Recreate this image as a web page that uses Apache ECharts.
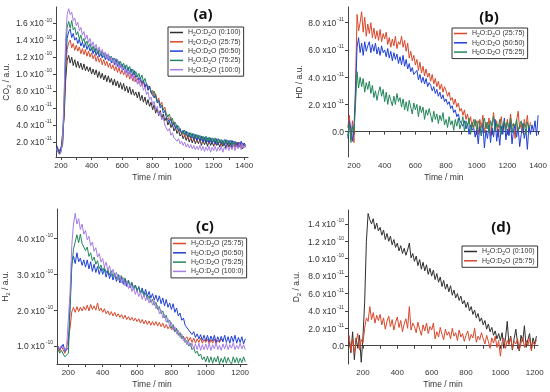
<!DOCTYPE html>
<html><head><meta charset="utf-8">
<script src="https://cdn.jsdelivr.net/npm/echarts@6/dist/echarts.min.js"></script>
<style>html,body{margin:0;padding:0;background:#fff}#c{width:550px;height:392px}</style>
</head><body><div id="c"></div>
<script>
// ---------- time axes (min) ----------
const timeAB = [160,170,180,190,
200,210,220,230,240,250,260,270,280,290,
300,310,320,330,340,350,360,370,380,390,
400,410,420,430,440,450,460,470,480,490,
500,510,520,530,540,550,560,570,580,590,
600,610,620,630,640,650,660,670,680,690,
700,710,720,730,740,750,760,770,780,790,
800,810,820,830,840,850,860,870,880,890,
900,910,920,930,940,950,960,970,980,990,
1000,1010,1020,1030,1040,1050,1060,1070,1080,1090,
1100,1110,1120,1130,1140,1150,1160,1170,1180,1190,
1200,1210,1220,1230,1240,1250,1260,1270,1280,1290,
1300,1310,1320,1330,1340,1350,1360,1370,1380,1390,
1400,1410];
const timeCD = [110,120,130,140,150,160,170,180,190,
200,210,220,230,240,250,260,270,280,290,
300,310,320,330,340,350,360,370,380,390,
400,410,420,430,440,450,460,470,480,490,
500,510,520,530,540,550,560,570,580,590,
600,610,620,630,640,650,660,670,680,690,
700,710,720,730,740,750,760,770,780,790,
800,810,820,830,840,850,860,870,880,890,
900,910,920,930,940,950,960,970,980,990,
1000,1010,1020,1030,1040,1050,1060,1070,1080,1090,
1100,1110,1120,1130,1140,1150,1160,1170,1180,1190,
1200,1210,1220,1230];

// ---------- (a) CO2, units of 1e-11 ----------
const co2_0_100 = [null,1.7,1.1,0.7,
1.2,1.4,4.8,9.2,11.6,12.2,11.3,12.0,11.0,11.7,
10.8,11.5,10.7,11.3,10.5,11.2,10.4,10.9,10.3,10.8,
10.0,10.6,9.9,10.5,9.6,10.3,9.5,10.1,9.3,9.9,
9.1,9.8,9.0,9.5,8.7,9.4,8.6,9.2,8.4,9.0,
8.2,8.9,8.0,8.6,7.8,8.5,7.6,8.2,7.5,7.9,
7.2,7.9,6.9,7.5,6.7,7.3,6.4,7.0,6.2,6.7,
5.8,6.4,5.4,6.0,5.1,5.7,4.8,5.3,4.5,4.9,
4.0,4.5,3.7,4.1,3.3,3.7,3.0,3.4,2.7,3.0,
2.4,2.8,2.2,2.7,2.0,2.5,1.9,2.5,1.8,2.3,
1.8,2.3,1.6,2.2,1.7,2.1,1.5,2.2,1.6,2.0,
1.5,2.1,1.6,1.9,1.4,2.0,1.5,1.9,1.3,1.9,
1.4,1.9,1.3,1.8,1.4,2.0,1.3,1.8,1.5,1.2,
1.7,1.4];
const co2_25_75 = [null,1.4,1.0,0.8,
1.1,1.6,5.5,10.5,12.9,13.7,14.0,13.1,13.6,12.8,
13.4,12.7,13.2,12.4,13.0,12.3,12.9,12.1,12.7,12.0,
12.5,11.8,12.3,11.5,12.1,11.4,11.9,11.1,11.7,11.0,
11.5,10.8,11.3,10.6,11.1,10.4,10.9,10.2,10.8,10.0,
10.5,9.9,10.4,9.6,10.2,9.4,10.0,9.2,9.8,9.1,
9.5,8.9,9.3,8.6,9.1,8.4,8.9,8.1,8.6,7.8,
8.1,7.3,7.7,6.8,7.2,6.3,6.7,5.8,6.1,5.3,
5.3,4.6,4.9,4.1,4.4,3.6,3.9,3.2,3.5,2.9,
3.2,2.6,3.1,2.4,2.9,2.3,2.8,2.2,2.7,2.1,
2.6,2.0,2.6,1.9,2.5,2.0,2.4,1.8,2.4,1.9,
2.2,1.7,2.3,1.8,2.2,1.6,2.1,1.7,2.2,1.6,
2.1,1.5,2.1,1.7,1.4,2.0,1.5,2.0,1.4,1.9,
1.6,null];
const co2_50_50 = [null,1.5,1.2,0.9,
1.0,1.8,6.0,11.5,14.2,15.0,15.3,14.3,14.8,14.0,
14.3,13.6,14.1,13.3,13.8,13.1,13.7,12.9,13.4,12.7,
13.1,12.4,13.0,12.2,12.8,12.0,12.6,11.9,12.5,11.7,
12.3,11.6,12.1,11.3,11.9,11.1,11.8,10.9,11.5,10.8,
11.2,10.5,11.0,10.2,10.8,10.0,10.6,9.8,10.4,9.6,
9.9,9.3,9.6,8.9,9.3,8.5,8.9,8.1,8.6,7.8,
8.0,7.2,7.5,6.6,6.9,6.0,6.3,5.4,5.7,4.9,
5.1,4.4,4.7,3.9,4.3,3.6,4.0,3.3,3.6,3.0,
3.4,2.9,3.3,2.6,3.1,2.5,3.0,2.3,2.9,2.2,
2.8,2.1,2.7,2.0,2.6,2.0,2.5,1.9,2.5,1.8,
2.4,1.8,2.4,1.7,2.3,1.8,2.2,1.6,2.3,1.7,
2.2,1.5,2.2,1.6,2.1,1.5,2.0,1.4,2.1,1.5,
1.9,1.6];
const co2_75_25 = [null,1.3,0.9,0.6,
0.9,2.0,6.8,12.8,15.5,16.2,15.4,16.3,15.2,15.5,
14.6,15.0,14.1,14.6,13.8,14.2,13.5,13.9,13.2,13.6,
12.8,13.3,12.6,13.1,12.4,12.9,12.2,12.7,12.0,12.5,
11.8,12.3,11.6,12.1,11.4,11.9,11.2,11.7,11.0,11.5,
10.8,11.3,10.6,11.1,10.4,10.9,10.2,10.6,9.9,10.3,
9.7,10.1,9.4,9.9,9.1,9.5,8.8,9.0,8.4,8.5,
7.7,8.0,7.2,7.4,6.7,6.9,6.2,6.3,5.6,5.7,
5.0,5.3,4.5,4.8,4.0,4.3,3.6,3.9,3.3,3.5,
3.0,3.4,2.8,3.2,2.6,3.1,2.5,3.0,2.4,2.9,
2.4,2.8,2.2,2.7,2.1,2.7,2.0,2.6,2.0,2.5,
2.0,2.5,1.8,2.4,1.9,2.3,1.7,2.3,1.8,2.2,
1.7,2.2,1.6,2.1,1.7,2.0,null,null,null,null,
null,null];
const co2_100_0 = [null,1.2,0.8,0.5,
0.8,2.2,7.5,14.0,17.0,17.7,17.0,17.3,16.3,16.6,
15.7,16.1,15.1,15.5,14.6,15.0,14.1,14.6,13.7,14.2,
13.3,13.8,13.0,13.5,12.7,13.2,12.4,12.9,12.1,12.6,
11.8,12.4,11.6,12.0,11.3,11.8,11.0,11.5,10.7,11.2,
10.4,10.9,10.1,10.6,9.8,10.3,9.5,9.9,9.1,9.6,
8.8,9.3,8.5,8.9,8.1,8.5,7.6,7.9,7.0,7.3,
6.4,6.8,5.8,6.2,5.2,5.5,4.6,4.9,4.0,4.2,
3.3,3.6,2.8,3.1,2.5,2.7,2.1,2.4,1.8,2.1,
1.6,2.0,1.4,1.8,1.3,1.7,1.2,1.6,1.1,1.5,
1.1,1.6,1.0,1.5,0.9,1.4,1.0,1.5,0.8,1.4,
1.0,1.5,0.9,1.4,1.0,1.5,0.8,1.4,1.1,1.6,
1.0,1.6,1.1,1.7,1.0,1.6,1.2,1.8,1.1,1.7,
1.3,1.6];

// ---------- (b) HD, units of 1e-11 ----------
const hd_25_75 = [0.3,1.2,-0.6,0.8,
-0.8,3.5,8.6,7.4,8.0,8.8,7.3,8.4,7.0,7.9,
7.2,8.0,6.9,7.6,6.8,7.4,6.7,7.5,6.6,7.2,
6.8,7.3,6.4,6.9,6.2,6.8,6.3,7.0,6.1,6.6,
6.4,7.0,6.2,6.7,5.9,6.5,5.4,5.9,5.2,5.6,
4.9,5.3,4.5,5.1,4.3,4.8,4.1,4.6,4.0,4.3,
3.7,4.2,3.5,3.9,3.3,3.7,3.1,3.5,2.9,3.3,
3.0,2.6,2.9,2.3,2.5,2.0,2.4,1.8,2.1,1.5,
1.7,1.2,1.6,0.9,1.3,0.6,1.1,0.3,0.9,0.4,
0.8,-0.2,0.9,0.3,1.2,-0.1,0.7,0.2,1.0,-0.3,
0.6,1.4,0.1,0.8,-0.4,0.5,1.1,0.0,0.7,0.3,
0.9,-0.2,1.3,0.4,0.6,-0.5,0.8,1.5,0.2,0.6,
-0.1,0.9,0.3,1.2,0.0,0.7,null,null,null,null,
null,null];
const hd_50_50 = [-0.5,0.8,0.2,-0.7,
0.4,2.8,6.2,6.9,5.8,6.5,5.6,6.6,5.9,6.3,
6.6,5.8,6.4,5.9,6.5,5.7,6.2,5.6,6.3,5.8,
6.0,5.5,6.1,5.4,5.9,5.2,5.8,5.3,5.7,5.0,
5.5,4.9,5.6,4.8,5.3,4.6,5.0,4.4,4.7,4.2,
4.1,4.5,3.8,4.2,3.6,4.0,3.5,3.9,3.3,3.6,
3.4,3.0,3.3,2.8,3.1,2.6,2.9,2.4,2.7,2.2,
2.4,2.0,2.2,1.7,1.9,1.4,1.6,1.1,1.3,0.8,
0.9,0.4,0.8,0.2,0.6,-0.2,0.5,0.1,0.3,-0.4,
0.2,-0.9,0.4,-0.3,0.6,-1.2,0.1,-0.5,0.5,-0.8,
0.3,-0.4,0.9,-0.7,0.2,-1.0,0.4,-0.2,1.0,-0.6,
0.2,-0.3,0.7,-0.9,0.1,0.5,-0.4,0.3,-1.1,-0.2,
0.6,-0.5,0.2,-1.3,0.4,-0.2,0.5,0.0,0.8,-0.3,
1.2,null];
const hd_75_25 = [-0.3,0.6,-0.8,0.4,
0.0,2.0,4.4,3.2,4.0,3.3,3.9,2.9,3.6,3.1,
3.7,2.8,3.4,2.5,3.0,2.3,2.9,3.3,2.6,3.1,
2.2,2.9,2.0,2.7,2.3,1.9,2.6,2.0,2.8,2.2,
2.5,1.8,2.4,1.6,2.2,1.5,2.3,1.8,1.3,2.1,
1.6,2.0,1.1,1.9,1.4,1.8,0.9,1.6,1.2,1.7,
1.2,0.7,1.5,0.9,1.3,0.6,1.2,0.8,1.4,0.5,
0.9,0.3,1.1,0.5,0.8,0.1,0.9,0.4,1.0,0.2,
0.6,1.1,0.0,0.8,0.4,1.0,-0.2,0.7,0.3,0.9,
0.1,0.8,0.5,-0.3,0.6,1.0,0.2,0.7,-0.1,0.8,
0.4,1.1,0.0,0.6,0.3,0.9,-0.2,0.5,0.8,0.1,
0.7,0.3,1.0,-0.1,0.6,0.4,0.9,0.0,0.5,0.8,
0.2,0.6,-0.2,0.7,0.3,0.5,null,null,null,null,
null,null];

// ---------- (c) H2, units of 1e-10 ----------
const h2_25_75 = [null,null,null,0.95,0.85,1.0,0.9,0.8,0.95,
0.9,1.5,1.95,2.08,1.94,2.1,1.96,2.08,1.98,2.1,
2.0,2.14,1.98,2.16,2.02,2.12,2.0,2.2,1.98,2.06,
1.94,2.04,1.9,1.98,1.86,1.96,1.84,1.94,1.82,1.9,
1.8,1.88,1.76,1.86,1.74,1.82,1.72,1.8,1.7,1.78,
1.68,1.76,1.64,1.74,1.62,1.72,1.6,1.7,1.58,1.68,
1.58,1.68,1.56,1.66,1.54,1.64,1.5,1.6,1.48,1.56,
1.46,1.52,1.4,1.46,1.32,1.36,1.26,1.3,1.2,1.26,
1.14,1.24,1.1,1.22,1.08,1.2,1.1,1.22,1.08,1.18,
1.1,1.2,1.06,1.18,1.08,1.2,1.06,1.16,1.1,1.2,
1.12,null,null,null,null,null,null,null,null,null,
null,null,null,null];
const h2_50_50 = [null,null,null,1.0,0.9,0.95,1.05,0.85,0.9,
0.95,2.2,3.3,3.5,3.3,3.6,3.35,3.45,3.25,3.4,
3.2,3.4,3.15,3.35,3.08,3.28,3.05,3.22,3.0,3.18,
3.0,3.14,2.92,3.1,2.88,3.04,2.84,3.0,2.8,2.94,
2.76,2.92,2.72,2.86,2.66,2.82,2.62,2.76,2.58,2.7,
2.52,2.66,2.48,2.62,2.42,2.58,2.38,2.52,2.34,2.46,
2.28,2.42,2.24,2.4,2.18,2.34,2.12,2.3,2.08,2.2,
2.02,2.18,1.94,2.06,1.84,1.92,1.72,1.78,1.58,1.62,
1.45,1.5,1.32,1.4,1.24,1.34,1.2,1.32,1.16,1.3,
1.14,1.3,1.12,1.28,1.14,1.3,1.1,1.26,1.12,1.27,
1.12,1.3,1.1,1.26,1.08,1.28,1.12,1.3,1.08,1.24,
1.1,1.26,1.06,1.2];
const h2_75_25 = [null,null,null,0.9,0.8,0.88,0.78,0.7,0.75,
0.8,2.0,3.2,3.7,3.9,4.1,3.88,4.12,3.86,3.84,
3.66,3.76,3.5,3.6,3.38,3.48,3.28,3.38,3.16,3.26,
3.1,3.2,3.04,3.14,2.98,3.1,2.94,3.04,2.88,3.0,
2.84,2.96,2.78,2.9,2.72,2.84,2.66,2.78,2.6,2.7,
2.56,2.64,2.46,2.56,2.38,2.48,2.3,2.4,2.22,2.3,
2.14,2.22,2.02,2.1,1.9,1.98,1.78,1.86,1.66,1.72,
1.5,1.6,1.4,1.5,1.3,1.38,1.2,1.28,1.1,1.16,
1.0,1.08,0.9,0.96,0.8,0.86,0.72,0.78,0.62,0.7,
0.56,0.72,0.54,0.7,0.52,0.68,0.56,0.72,0.5,0.66,
0.54,0.7,0.52,0.68,0.56,0.5,0.7,0.54,0.68,0.52,
0.66,0.54,0.7,0.56];
const h2_100_0 = [null,null,null,1.0,0.92,1.02,0.95,0.88,0.98,
0.95,2.5,3.8,4.4,4.7,4.4,4.55,4.25,4.4,4.12,
4.22,3.96,4.06,3.8,3.9,3.64,3.74,3.48,3.58,3.34,
3.44,3.2,3.34,3.1,3.24,3.0,3.14,2.92,3.06,2.84,
2.98,2.76,2.9,2.68,2.82,2.6,2.74,2.52,2.64,2.44,
2.56,2.38,2.5,2.3,2.44,2.26,2.38,2.2,2.32,2.14,
2.26,2.04,2.14,1.9,2.0,1.78,1.88,1.66,1.76,1.54,
1.66,1.44,1.54,1.34,1.44,1.24,1.34,1.14,1.22,1.04,
1.14,0.98,1.08,0.92,1.06,0.9,1.08,0.88,1.04,0.9,
1.06,0.9,1.08,0.88,1.04,0.92,1.1,0.9,1.02,0.88,
1.06,0.92,1.08,0.9,1.04,0.94,1.1,0.9,1.02,0.92,
1.08,0.92,1.04,0.9];

// ---------- (d) D2, units of 1e-11 ----------
const d2_0_100 = [null,0.5,-0.8,1.6,-1.6,0.9,-0.3,1.2,-1.9,
1.0,5.0,12.0,15.2,14.5,14.0,14.6,13.4,14.1,13.2,
13.6,12.7,13.3,12.2,12.9,12.0,12.6,11.6,12.2,11.3,
11.8,10.9,11.5,10.6,11.2,10.4,11.0,11.8,10.1,10.6,
9.7,10.3,9.2,9.9,8.8,9.6,8.6,9.3,8.2,8.9,
8.0,8.7,7.6,8.3,7.3,7.9,6.8,7.5,6.5,7.1,
6.2,6.9,5.8,6.4,5.5,6.0,5.2,5.7,4.8,5.2,
4.4,5.0,4.0,4.5,3.6,4.1,3.2,3.7,2.8,3.2,
2.4,2.9,1.9,2.5,1.6,2.1,1.2,1.7,0.8,1.4,
0.6,1.5,-0.3,0.9,2.8,0.2,1.1,-0.5,0.8,1.9,
0.3,-0.6,1.2,0.5,2.3,-0.2,0.7,1.4,-0.4,0.9,
0.2,1.1,null,null];
const d2_25_75 = [null,1.2,-0.6,0.8,-0.9,0.5,1.4,-0.5,0.7,
0.3,2.0,3.2,2.8,4.5,3.0,3.8,2.6,3.5,2.9,
3.6,2.4,3.2,1.9,2.8,3.4,2.2,3.0,1.8,2.7,
3.3,2.1,2.9,1.6,2.5,3.1,2.0,4.5,1.8,2.6,
2.2,1.5,2.7,1.9,1.2,2.4,1.7,2.6,1.4,2.2,
1.8,2.6,0.8,1.6,1.0,2.1,1.3,0.7,1.9,1.2,
1.6,0.8,2.0,1.1,1.5,0.6,1.8,1.0,1.4,0.5,
1.2,1.7,0.6,1.3,0.9,2.0,0.4,1.1,0.7,1.5,
0.8,0.2,1.2,0.5,-0.3,0.9,0.3,1.1,-0.2,0.6,
-1.2,0.4,0.9,-0.3,0.6,0.1,1.0,-0.4,0.5,0.2,
0.8,-0.5,0.3,1.0,-0.2,0.6,0.0,0.9,-0.6,0.4,
0.1,0.7,null,null];

// ---------- ticks ----------
const xTicksAB = [200,400,600,800,1000,1200,1400];
const xMinorAB = [200,300,400,500,600,700,800,900,1000,1100,1200,1300,1400];
const xTicksCD = [200,400,600,800,1000,1200];
const xMinorCD = [200,300,400,500,600,700,800,900,1000,1100,1200];
const yTicksA = [2,4,6,8,10,12,14,16];
const yTicksB = [0,2,4,6,8];
const yTicksC = [1,2,3,4];
const yTicksD = [0,2,4,6,8,10,12,14];

const N0 = 'H2O:D2O (0:100)', N25 = 'H2O:D2O (25:75)', N50 = 'H2O:D2O (50:50)', N75 = 'H2O:D2O (75:25)', N100 = 'H2O:D2O (100:0)';
const COL = {};
COL[N0] = '#2e2e2e'; COL[N25] = '#d9472b'; COL[N50] = '#1f3fd6'; COL[N75] = '#23865a'; COL[N100] = '#a67de6';

const FONT = '"Liberation Sans", Arial, sans-serif';
const TXT = '#333';
const pairs = (t, v) => t.map((x, i) => [x, v[i]]).filter(p => p[1] !== null);

function expLabel(unitExp) {
  return function (v) {
    if (v === 0) return '{m|0.0}';
    let m = v, e = unitExp;
    if (unitExp === -11 && v >= 10) { m = v / 10; e = -10; }
    return '{m|' + m.toFixed(1) + ' x10}{e|' + e + '}';
  };
}
const labelRich = {
  m: { fontSize: 8.5, color: TXT, fontFamily: FONT, lineHeight: 11, verticalAlign: 'bottom' },
  e: { fontSize: 5, color: TXT, fontFamily: FONT, lineHeight: 6, verticalAlign: 'top', padding: [0, 0, 0, 1] }
};
const nameRich = {
  t: { fontSize: 8.5, color: TXT, fontFamily: FONT, lineHeight: 11 },
  s: { fontSize: 6, color: TXT, fontFamily: FONT, lineHeight: 6, verticalAlign: 'bottom' }
};

function xAxis(idx, min, max, ticks, minor) {
  return {
    type: 'value', gridIndex: idx, min: min, max: max,
    name: 'Time / min', nameLocation: 'middle', nameGap: 16,
    nameTextStyle: { fontSize: 8.5, color: TXT, fontFamily: FONT },
    axisLine: { show: true, lineStyle: { color: '#444', width: 1 } },
    axisTick: { show: true, inside: false, length: 3, customValues: minor, lineStyle: { color: '#444' } },
    axisLabel: { customValues: ticks, fontSize: 8, color: TXT, fontFamily: FONT, margin: 5,
      formatter: function (v) { return String(v); } },
    splitLine: { show: false }
  };
}
function yAxis(idx, min, max, ticks, unitExp, nameBase, nameSub, gap) {
  return {
    type: 'value', gridIndex: idx, min: min, max: max,
    name: '{t|' + nameBase + '}' + (nameSub ? '{s|' + nameSub + '}' : '') + '{t| / a.u.}',
    nameLocation: 'middle', nameGap: gap, nameRotate: 90,
    nameTextStyle: { rich: nameRich },
    axisLine: { show: true, lineStyle: { color: '#444', width: 1 } },
    axisTick: { show: true, inside: false, length: 3, customValues: ticks, lineStyle: { color: '#444' } },
    axisLabel: { customValues: ticks, formatter: expLabel(unitExp), rich: labelRich, margin: 4 },
    splitLine: { show: false }
  };
}
function line(name, idx, t, v) {
  return {
    type: 'line', name: name, xAxisIndex: idx, yAxisIndex: idx,
    data: pairs(t, v), showSymbol: false, symbol: 'none', animation: false,
    lineStyle: { width: 1, color: COL[name] }, itemStyle: { color: COL[name] }
  };
}
function legend(left, top, names) {
  return {
    orient: 'vertical', left: left, top: top, data: names, icon: 'rect',
    itemWidth: 13, itemHeight: 1.5, itemGap: 1.3, itemTextGap: 4,
    borderColor: '#333', borderWidth: 1, borderRadius: 0, padding: [2, 3, 2, 2],
    selectedMode: false,
    formatter: function (n) {
      const r = n.match(/\((.*)\)/)[1];
      return '{t|H}{s|2}{t|O:D}{s|2}{t|O (' + r + ')}';
    },
    textStyle: {
      rich: {
        t: { fontSize: 7, color: TXT, fontFamily: FONT, lineHeight: 9 },
        s: { fontSize: 5, color: TXT, fontFamily: FONT, lineHeight: 5, verticalAlign: 'bottom' }
      }
    }
  };
}
function panelTitle(x, y, s) {
  return { type: 'text', x: x, y: y, style: { text: s, fill: '#111', font: 'bold 15px "Open Sans", "Liberation Sans", Arial', textAlign: 'center', textVerticalAlign: 'middle' } };
}

const option = {
  backgroundColor: '#fff',
  animation: false,
  grid: [
    { left: 56, top: 7, width: 192, height: 150 },
    { left: 348, top: 7, width: 192, height: 150 },
    { left: 57, top: 209, width: 190, height: 155 },
    { left: 348, top: 210, width: 190, height: 154 }
  ],
  xAxis: [
    xAxis(0, 167, 1425, xTicksAB, xMinorAB),
    xAxis(1, 161, 1410, xTicksAB, xMinorAB),
    xAxis(2, 134, 1240, xTicksCD, xMinorCD),
    xAxis(3, 113, 1219, xTicksCD, xMinorCD)
  ],
  yAxis: [
    yAxis(0, 0.24, 17.9, yTicksA, -11, 'CO', '2', 44),
    yAxis(1, -1.86, 9.15, yTicksB, -11, 'HD', '', 43),
    yAxis(2, 0.5, 4.82, yTicksC, -10, 'H', '2', 46),
    yAxis(3, -2.1, 15.6, yTicksD, -11, 'D', '2', 46)
  ],
  legend: [
    legend(168, 27, [N0, N25, N50, N75, N100]),
    legend(452, 28, [N25, N50, N75]),
    legend(171, 238, [N25, N50, N75, N100]),
    legend(462, 246, [N0, N25])
  ],
  graphic: [
    panelTitle(203, 15, '(a)'),
    panelTitle(489, 18, '(b)'),
    panelTitle(205, 227, '(c)'),
    panelTitle(501, 228, '(d)')
  ],
  series: [
    line(N0, 0, timeAB, co2_0_100),
    line(N25, 0, timeAB, co2_25_75),
    line(N50, 0, timeAB, co2_50_50),
    line(N75, 0, timeAB, co2_75_25),
    line(N100, 0, timeAB, co2_100_0),
    line(N25, 1, timeAB, hd_25_75),
    line(N50, 1, timeAB, hd_50_50),
    line(N75, 1, timeAB, hd_75_25),
    line(N25, 2, timeCD, h2_25_75),
    line(N50, 2, timeCD, h2_50_50),
    line(N75, 2, timeCD, h2_75_25),
    line(N100, 2, timeCD, h2_100_0),
    line(N0, 3, timeCD, d2_0_100),
    line(N25, 3, timeCD, d2_25_75)
  ]
};
const chart = echarts.init(document.getElementById('c'));
chart.setOption(option);
</script></body></html>
